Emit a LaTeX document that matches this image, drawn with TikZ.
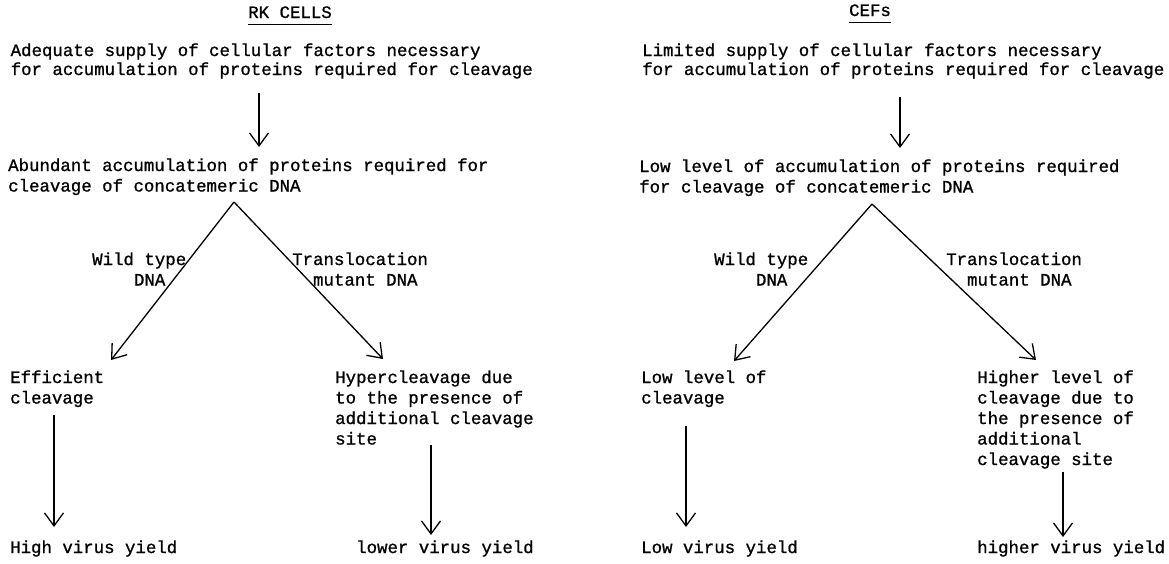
\documentclass[tikz,border=0pt]{standalone}
\usepackage{fontspec}
\setmainfont{Liberation Mono}[FakeBold=1]
\usetikzlibrary{arrows.meta}
\begin{document}
\begin{tikzpicture}[x=1pt,y=-1pt,
  txt/.style={anchor=base west,inner sep=0pt,align=left,font=\fontsize{17.4}{20.5}\selectfont},
  toptxt/.style={txt,font=\fontsize{17.4}{19}\selectfont},
  ttl/.style={anchor=base,inner sep=0pt,font=\fontsize{17.4}{20.5}\selectfont},
  arr/.style={line width=1.3pt,-{Straight Barb[length=13pt,width=19pt,line width=1.3pt]}},
  uline/.style={line width=1pt}]
\useasboundingbox (0,0) rectangle (1169,563);
% multi-line nodes are placed by the baseline of their last line
% ---------------- left: RK cells ----------------
\node[ttl] (rk) at (290,18) {RK CELLS};
\draw[uline] ([yshift=-6pt]rk.base west) -- ([yshift=-6pt]rk.base east);
\node[toptxt] (a1) at (10.5,75) {Adequate supply of cellular factors necessary\\for accumulation of proteins required for cleavage};
\node[txt] (b1) at (8,191.5) {Abundant accumulation of proteins required for\\cleavage of concatemeric DNA};
\coordinate (a1s) at (259,93);
\coordinate (a1e) at (259,147);
\draw[arr] (a1s) -- (a1e);
\coordinate (ap1) at (234,202);
\coordinate (l1t) at (111,360);
\coordinate (r1t) at (383,359);
\draw[arr] (ap1) -- (l1t);
\draw[arr] (ap1) -- (r1t);
\node[txt] (wt1) at (92,285.5) {Wild type\\\hspace*{41.8pt}DNA};
\node[txt] (tm1) at (292,285.5) {Translocation\\\hspace*{20.9pt}mutant DNA};
\node[txt] (c1) at (10,403.5) {Efficient\\cleavage};
\node[txt] (h1) at (335,444.5) {Hypercleavage due\\to the presence of\\additional cleavage\\site};
\coordinate (c1s) at (54,415);
\coordinate (c1e) at (54,527);
\draw[arr] (c1s) -- (c1e);
\coordinate (h1s) at (431,445);
\coordinate (h1e) at (431,535);
\draw[arr] (h1s) -- (h1e);
\node[txt] (y1) at (10,553) {High virus yield};
\node[txt] (y2) at (356,553) {lower virus yield};
% ---------------- right: CEFs ----------------
\node[ttl] (cef) at (870,16) {CEFs};
\draw[uline] ([yshift=-6pt]cef.base west) -- ([yshift=-6pt]cef.base east);
\node[toptxt] (a2) at (642,75) {Limited supply of cellular factors necessary\\for accumulation of proteins required for cleavage};
\node[txt] (b2) at (639,192.5) {Low level of accumulation of proteins required\\for cleavage of concatemeric DNA};
\coordinate (a2s) at (900,97);
\coordinate (a2e) at (900,148);
\draw[arr] (a2s) -- (a2e);
\coordinate (ap2) at (872,204);
\coordinate (l2t) at (734,361);
\coordinate (r2t) at (1036,360);
\draw[arr] (ap2) -- (l2t);
\draw[arr] (ap2) -- (r2t);
\node[txt] (wt2) at (714,285.5) {Wild type\\\hspace*{41.8pt}DNA};
\node[txt] (tm2) at (946,285.5) {Translocation\\\hspace*{20.9pt}mutant DNA};
\node[txt] (c2) at (641,403.5) {Low level of\\cleavage};
\node[txt] (h2) at (977,465) {Higher level of\\cleavage due to\\the presence of\\additional\\cleavage site};
\coordinate (c2s) at (686,426);
\coordinate (c2e) at (686,527);
\draw[arr] (c2s) -- (c2e);
\coordinate (h2s) at (1063,472);
\coordinate (h2e) at (1063,537);
\draw[arr] (h2s) -- (h2e);
\node[txt] (y3) at (641,553) {Low virus yield};
\node[txt] (y4) at (977,553) {higher virus yield};
\end{tikzpicture}
\end{document}
